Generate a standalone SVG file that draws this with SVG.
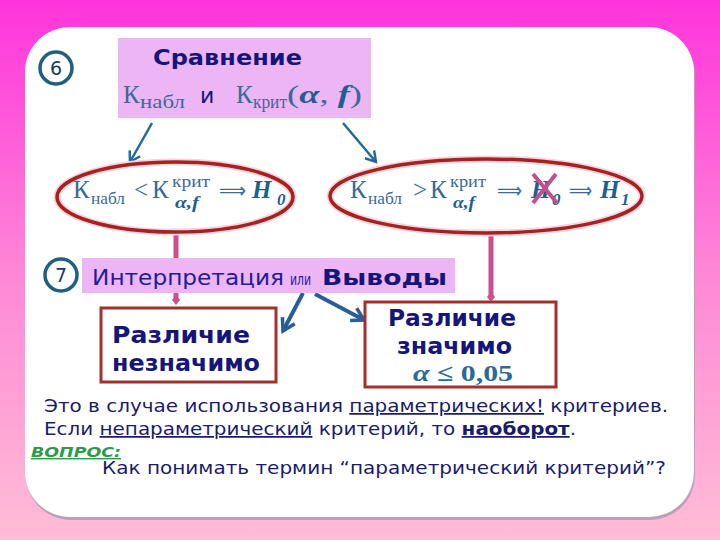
<svg xmlns="http://www.w3.org/2000/svg" width="720" height="540" viewBox="0 0 720 540">
<defs>
<linearGradient id="bg" x1="0" y1="0" x2="0" y2="1">
<stop offset="0" stop-color="#ff34dc"/>
<stop offset="0.5" stop-color="#ff86d6"/>
<stop offset="1" stop-color="#ffbdd6"/>
</linearGradient>
<marker id="chev" markerUnits="userSpaceOnUse" markerWidth="16" markerHeight="16" viewBox="0 0 16 16" refX="13" refY="8" orient="auto">
<path d="M3,2 L13,8 L3,14" fill="none" stroke="#236a99" stroke-width="2.5"/>
</marker>
<marker id="chev2" markerUnits="userSpaceOnUse" markerWidth="18" markerHeight="18" viewBox="0 0 18 18" refX="15" refY="9" orient="auto">
<path d="M3,2 L15,9 L3,16" fill="none" stroke="#2b5e98" stroke-width="3.5"/>
</marker>
<marker id="dia" markerUnits="userSpaceOnUse" markerWidth="12" markerHeight="12" viewBox="0 0 12 12" refX="6" refY="6" orient="auto">
<path d="M1,6 L6,2 L11,6 L6,10 Z" fill="#cc4f8c"/>
</marker>
</defs>
<style>
.sans{font-family:"DejaVu Sans","Liberation Sans",sans-serif}
.serif{font-family:"Liberation Serif","DejaVu Serif",serif}
.navy{fill:#15157a}
.bold{font-weight:bold}
.K{fill:#3a6a98}
.mb{fill:#1f5f8f;font-weight:bold;font-style:italic}
.ell{fill:none;stroke:#a5231e;stroke-width:3.5}
.glow{fill:none;stroke:#f9d3e1;stroke-width:7}
.res{fill:#fff;stroke:#a3302a;stroke-width:3}
.lav{fill:#ecb6f5}
.num{fill:#fff;stroke:#1f5f7f;stroke-width:3.5}
.blue{stroke:#236a99;stroke-width:2.5;fill:none}
.blue2{stroke:#2b5e98;stroke-width:4;fill:none}
.pink{stroke:#cc4f8c;stroke-width:5;fill:none}
.note{fill:#1b1b6b;font-size:17.5px}
</style>
<rect width="720" height="540" fill="url(#bg)"/>
<rect x="26" y="30" width="669" height="490" rx="45" fill="#bf9fb8"/>
<rect x="25" y="27" width="669" height="490" rx="45" fill="#ffffff"/>

<g id="connectors">
<line class="blue" x1="152" y1="123" x2="130" y2="162" marker-end="url(#chev)"/>
<line class="blue" x1="343" y1="123" x2="376" y2="162" marker-end="url(#chev)"/>
<line class="pink" x1="176" y1="232" x2="176" y2="300" marker-end="url(#dia)"/>
<line class="pink" x1="491" y1="234" x2="491" y2="297" marker-end="url(#dia)"/>
<line class="blue2" x1="303" y1="293" x2="283" y2="331" marker-end="url(#chev2)"/>
<line class="blue2" x1="315" y1="294" x2="364" y2="320" marker-end="url(#chev2)"/>
</g>

<g id="step6">
<circle class="num" cx="56" cy="68" r="16"/>
<text class="sans" x="56" y="75" font-size="19" text-anchor="middle" fill="#1a3a5a">6</text>
</g>

<g id="compare">
<rect class="lav" x="118" y="38" width="253" height="80"/>
<text class="sans bold navy" x="153" y="65" font-size="22" textLength="149" lengthAdjust="spacingAndGlyphs">Сравнение</text>
<text class="serif K" x="123" y="103" font-size="25">К</text>
<text class="serif K" x="140" y="108" font-size="18" textLength="45" lengthAdjust="spacingAndGlyphs">набл</text>
<text class="sans navy" x="200" y="103" font-size="22">и</text>
<text class="serif K" x="236" y="103" font-size="25">К</text>
<text class="serif K" x="253" y="108" font-size="18" textLength="34" lengthAdjust="spacingAndGlyphs">крит</text>
<text class="serif K" x="287" y="103" font-size="25" textLength="75" lengthAdjust="spacingAndGlyphs">(<tspan class="mb">α</tspan>, <tspan class="mb">f</tspan>)</text>
</g>

<g id="cond-less">
<ellipse class="glow" cx="175" cy="197" rx="118" ry="35"/>
<ellipse class="ell" cx="175" cy="197" rx="118" ry="35"/>
<text class="serif K" x="73" y="198" font-size="25">К</text>
<text class="serif K" x="91" y="204" font-size="17" textLength="34" lengthAdjust="spacingAndGlyphs">набл</text>
<text class="serif K" x="134" y="198" font-size="25">&lt;</text>
<text class="serif K" x="152" y="198" font-size="25">К</text>
<text class="serif K" x="172" y="187" font-size="17" textLength="38" lengthAdjust="spacingAndGlyphs">крит</text>
<text class="serif mb" x="175" y="208" font-size="17" textLength="24" lengthAdjust="spacingAndGlyphs">α,f</text>
<text class="sans K" x="219" y="198" font-size="22" textLength="27" lengthAdjust="spacingAndGlyphs">⟹</text>
<text class="serif mb" x="252" y="198" font-size="25">H</text>
<text class="serif mb" x="277" y="205" font-size="17" font-style="normal">0</text>
</g>

<g id="cond-greater">
<ellipse class="glow" cx="486" cy="196" rx="156" ry="37"/>
<ellipse class="ell" cx="486" cy="196" rx="156" ry="37"/>
<text class="serif K" x="350" y="198" font-size="25">К</text>
<text class="serif K" x="368" y="204" font-size="17" textLength="34" lengthAdjust="spacingAndGlyphs">набл</text>
<text class="serif K" x="413" y="198" font-size="25">&gt;</text>
<text class="serif K" x="430" y="198" font-size="25">К</text>
<text class="serif K" x="450" y="187" font-size="17" textLength="36" lengthAdjust="spacingAndGlyphs">крит</text>
<text class="serif mb" x="453" y="208" font-size="17" textLength="22" lengthAdjust="spacingAndGlyphs">α,f</text>
<text class="sans K" x="497" y="198" font-size="22" textLength="25" lengthAdjust="spacingAndGlyphs">⟹</text>
<text class="serif mb" x="531" y="198" font-size="25">H</text>
<text class="serif mb" x="552" y="205" font-size="17" font-style="normal">0</text>
<path d="M533,174 L557,203 M556,174 L533,203" stroke="#c2508e" stroke-width="4" fill="none"/>
<text class="sans K" x="569" y="198" font-size="22" textLength="23" lengthAdjust="spacingAndGlyphs">⟹</text>
<text class="serif mb" x="600" y="198" font-size="25">H</text>
<text class="serif mb" x="621" y="205" font-size="17" font-style="normal">1</text>
</g>

<g id="step7">
<circle class="num" cx="61" cy="275" r="16"/>
<text class="sans" x="61" y="282" font-size="19" text-anchor="middle" fill="#1a3a5a">7</text>
</g>

<g id="interp">
<rect class="lav" x="82" y="258" width="373" height="35"/>
<text class="sans" x="92" y="285" font-size="22" fill="#231a95" textLength="192" lengthAdjust="spacingAndGlyphs">Интерпретация</text>
<text class="sans" x="290" y="285" font-size="16" fill="#231a95" textLength="21" lengthAdjust="spacingAndGlyphs">или</text>
<text class="sans bold navy" x="322" y="285" font-size="22" textLength="125" lengthAdjust="spacingAndGlyphs">Выводы</text>
</g>

<g id="res-insig">
<rect class="res" x="101" y="308" width="175" height="74"/>
<text class="sans bold navy" x="112" y="343" font-size="23" textLength="138" lengthAdjust="spacingAndGlyphs">Различие</text>
<text class="sans bold navy" x="112" y="371" font-size="23" textLength="148" lengthAdjust="spacingAndGlyphs">незначимо</text>
</g>

<g id="res-sig">
<rect class="res" x="365" y="302" width="191" height="85"/>
<text class="sans bold navy" x="388" y="326" font-size="23" textLength="128" lengthAdjust="spacingAndGlyphs">Различие</text>
<text class="sans bold navy" x="397" y="354" font-size="23" textLength="115" lengthAdjust="spacingAndGlyphs">значимо</text>
<text class="serif" x="413" y="381" font-size="24" fill="#2a6a96" font-weight="bold" textLength="100" lengthAdjust="spacingAndGlyphs"><tspan font-style="italic">α</tspan> ≤ 0,05</text>
</g>

<g id="notes">
<text class="sans note" x="44" y="412" textLength="624" lengthAdjust="spacingAndGlyphs">Это в случае использования <tspan text-decoration="underline">параметрических!</tspan> критериев.</text>
<text class="sans note" x="44" y="435" textLength="532" lengthAdjust="spacingAndGlyphs">Если <tspan text-decoration="underline">непараметрический</tspan> критерий, то <tspan font-weight="bold" text-decoration="underline">наоборот</tspan>.</text>
<text class="sans" x="31" y="457" font-size="14" font-weight="bold" font-style="italic" fill="#2e9a4a" text-decoration="underline" textLength="90" lengthAdjust="spacingAndGlyphs">ВОПРОС:</text>
<text class="sans note" x="102" y="474" textLength="564" lengthAdjust="spacingAndGlyphs">Как понимать термин “параметрический критерий”?</text>
</g>
</svg>
